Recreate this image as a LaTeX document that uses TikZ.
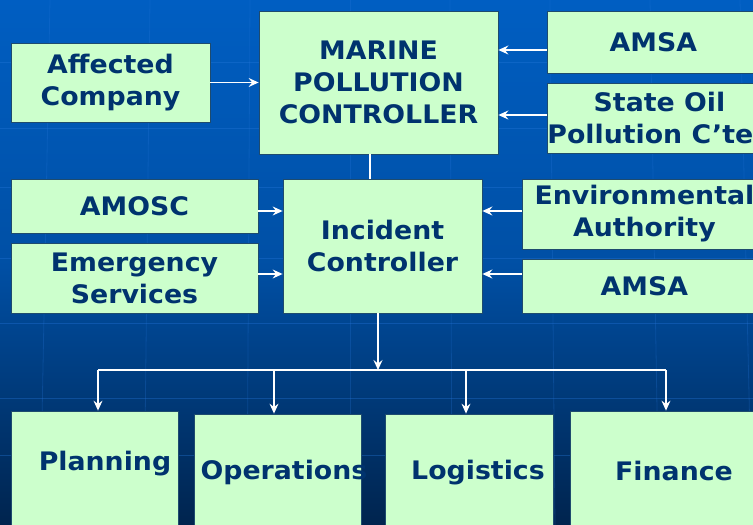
\documentclass[tikz,border=0pt]{standalone}
\usepackage{fontspec}
\setmainfont{DejaVu Sans}[FakeStretch=1.05]
\usetikzlibrary{arrows.meta}
\definecolor{boxfill}{RGB}{204,255,204}
\definecolor{boxtext}{RGB}{0,51,110}
\definecolor{boxedge}{RGB}{30,75,110}
\definecolor{bgtop}{RGB}{0,94,194}
\definecolor{bgbot}{RGB}{0,36,78}
\definecolor{gridline}{RGB}{40,120,220}
\tikzset{
  orgbox/.style={draw=boxedge, line width=0.8pt, fill=boxfill, text=boxtext,
    font=\bfseries\fontsize{25.5}{32}\selectfont, align=center, inner sep=0pt},
  boxlabel/.style={text=boxtext, font=\bfseries\fontsize{25.5}{32}\selectfont, inner sep=0pt},
  feed/.style={draw=white, line width=1.3pt,
    -{Stealth[length=10pt,width=9pt,inset=3.5pt]}},
  link/.style={draw=white, line width=1.3pt},
}
\begin{document}
\begin{tikzpicture}[x=1pt,y=-1pt]
  \useasboundingbox (0,0) rectangle (753,525);
  \clip (0,0) rectangle (753,525);
  % backdrop
  \shade[top color=bgtop, bottom color=bgbot, middle color=bgtop!75!bgbot] (0,0) rectangle (753,525);
  \foreach \yy in {62,128,187,258,323,398,455}
    \draw[gridline, opacity=0.35, line width=1pt] (0,\yy) -- (753,\yy);
  \foreach \xx/\dx in {50/-10,150/-6,250/-3,350/0,450/2,550/5,650/9,740/12}
    \draw[gridline, opacity=0.25, line width=0.8pt] (\xx,0) -- (\xx+\dx,525);

  % top tier
  \node[orgbox, minimum width=199pt, minimum height=79pt] (ac) at (110.5,82.5) {Affected\\Company};
  \node[orgbox, minimum width=239pt, minimum height=143pt] (mpc) at (378.5,82.5) {MARINE\\POLLUTION\\CONTROLLER};
  \node[orgbox, minimum width=212pt, minimum height=62pt, anchor=west] (amsaA) at (547,42) {AMSA};
  \node[orgbox, minimum width=212pt, minimum height=70pt, anchor=west] (soc) at (547,118) {State Oil\\Pollution C’tee};

  % middle tier
  \node[orgbox, minimum width=247pt, minimum height=54pt] (amosc) at (134.5,206) {AMOSC};
  \node[orgbox, minimum width=247pt, minimum height=70pt] (es) at (134.5,278) {Emergency\\Services};
  \node[orgbox, minimum width=199pt, minimum height=134pt] (ic) at (382.5,246) {Incident\\Controller};
  \node[orgbox, minimum width=244pt, minimum height=70pt, anchor=west] (ea) at (522,214) {Environmental\\Authority};
  \node[orgbox, minimum width=244pt, minimum height=54pt, anchor=west] (amsaB) at (522,286) {AMSA};

  % bottom tier
  \node[orgbox, minimum width=167pt, minimum height=118pt] (plan) at (94.5,470) {};
  \node[orgbox, minimum width=167pt, minimum height=115pt] (ops) at (277.5,471.5) {};
  \node[orgbox, minimum width=168pt, minimum height=115pt] (log) at (469,471.5) {};
  \node[orgbox, minimum width=184pt, minimum height=118pt] (fin) at (662,470) {};
  \node[boxlabel] (planT) at (105,464) {Planning};
  \node[boxlabel] (opsT) at (284,472) {Operations};
  \node[boxlabel] (logT) at (478,473) {Logistics};
  \node[boxlabel] (finT) at (674,471) {Finance};

  % feeds into the pollution controller
  \draw[feed] (ac.east) -- (mpc.west |- ac.east);
  \draw[feed] (amsaA.west |- 0,50) -- (mpc.east |- 0,50);
  \draw[feed] (soc.west |- 0,115) -- (mpc.east |- 0,115);
  \draw[link] (mpc.south -| 370,0) -- (ic.north -| 370,0);

  % feeds into the incident controller
  \draw[feed] (amosc.east |- 0,211) -- (ic.west |- 0,211);
  \draw[feed] (es.east |- 0,274) -- (ic.west |- 0,274);
  \draw[feed] (ea.west |- 0,211) -- (ic.east |- 0,211);
  \draw[feed] (amsaB.west |- 0,274) -- (ic.east |- 0,274);

  % distribution to sections
  \coordinate (split) at (378,370);
  \draw[feed] (ic.south -| split) -- (split);
  \draw[link] (98,370) -- (666,370);
  \draw[feed] (98,370) -- (plan.north -| 98,0);
  \draw[feed] (274,370) -- (ops.north -| 274,0);
  \draw[feed] (466,370) -- (log.north -| 466,0);
  \draw[feed] (666,370) -- (fin.north -| 666,0);
\end{tikzpicture}
\end{document}
